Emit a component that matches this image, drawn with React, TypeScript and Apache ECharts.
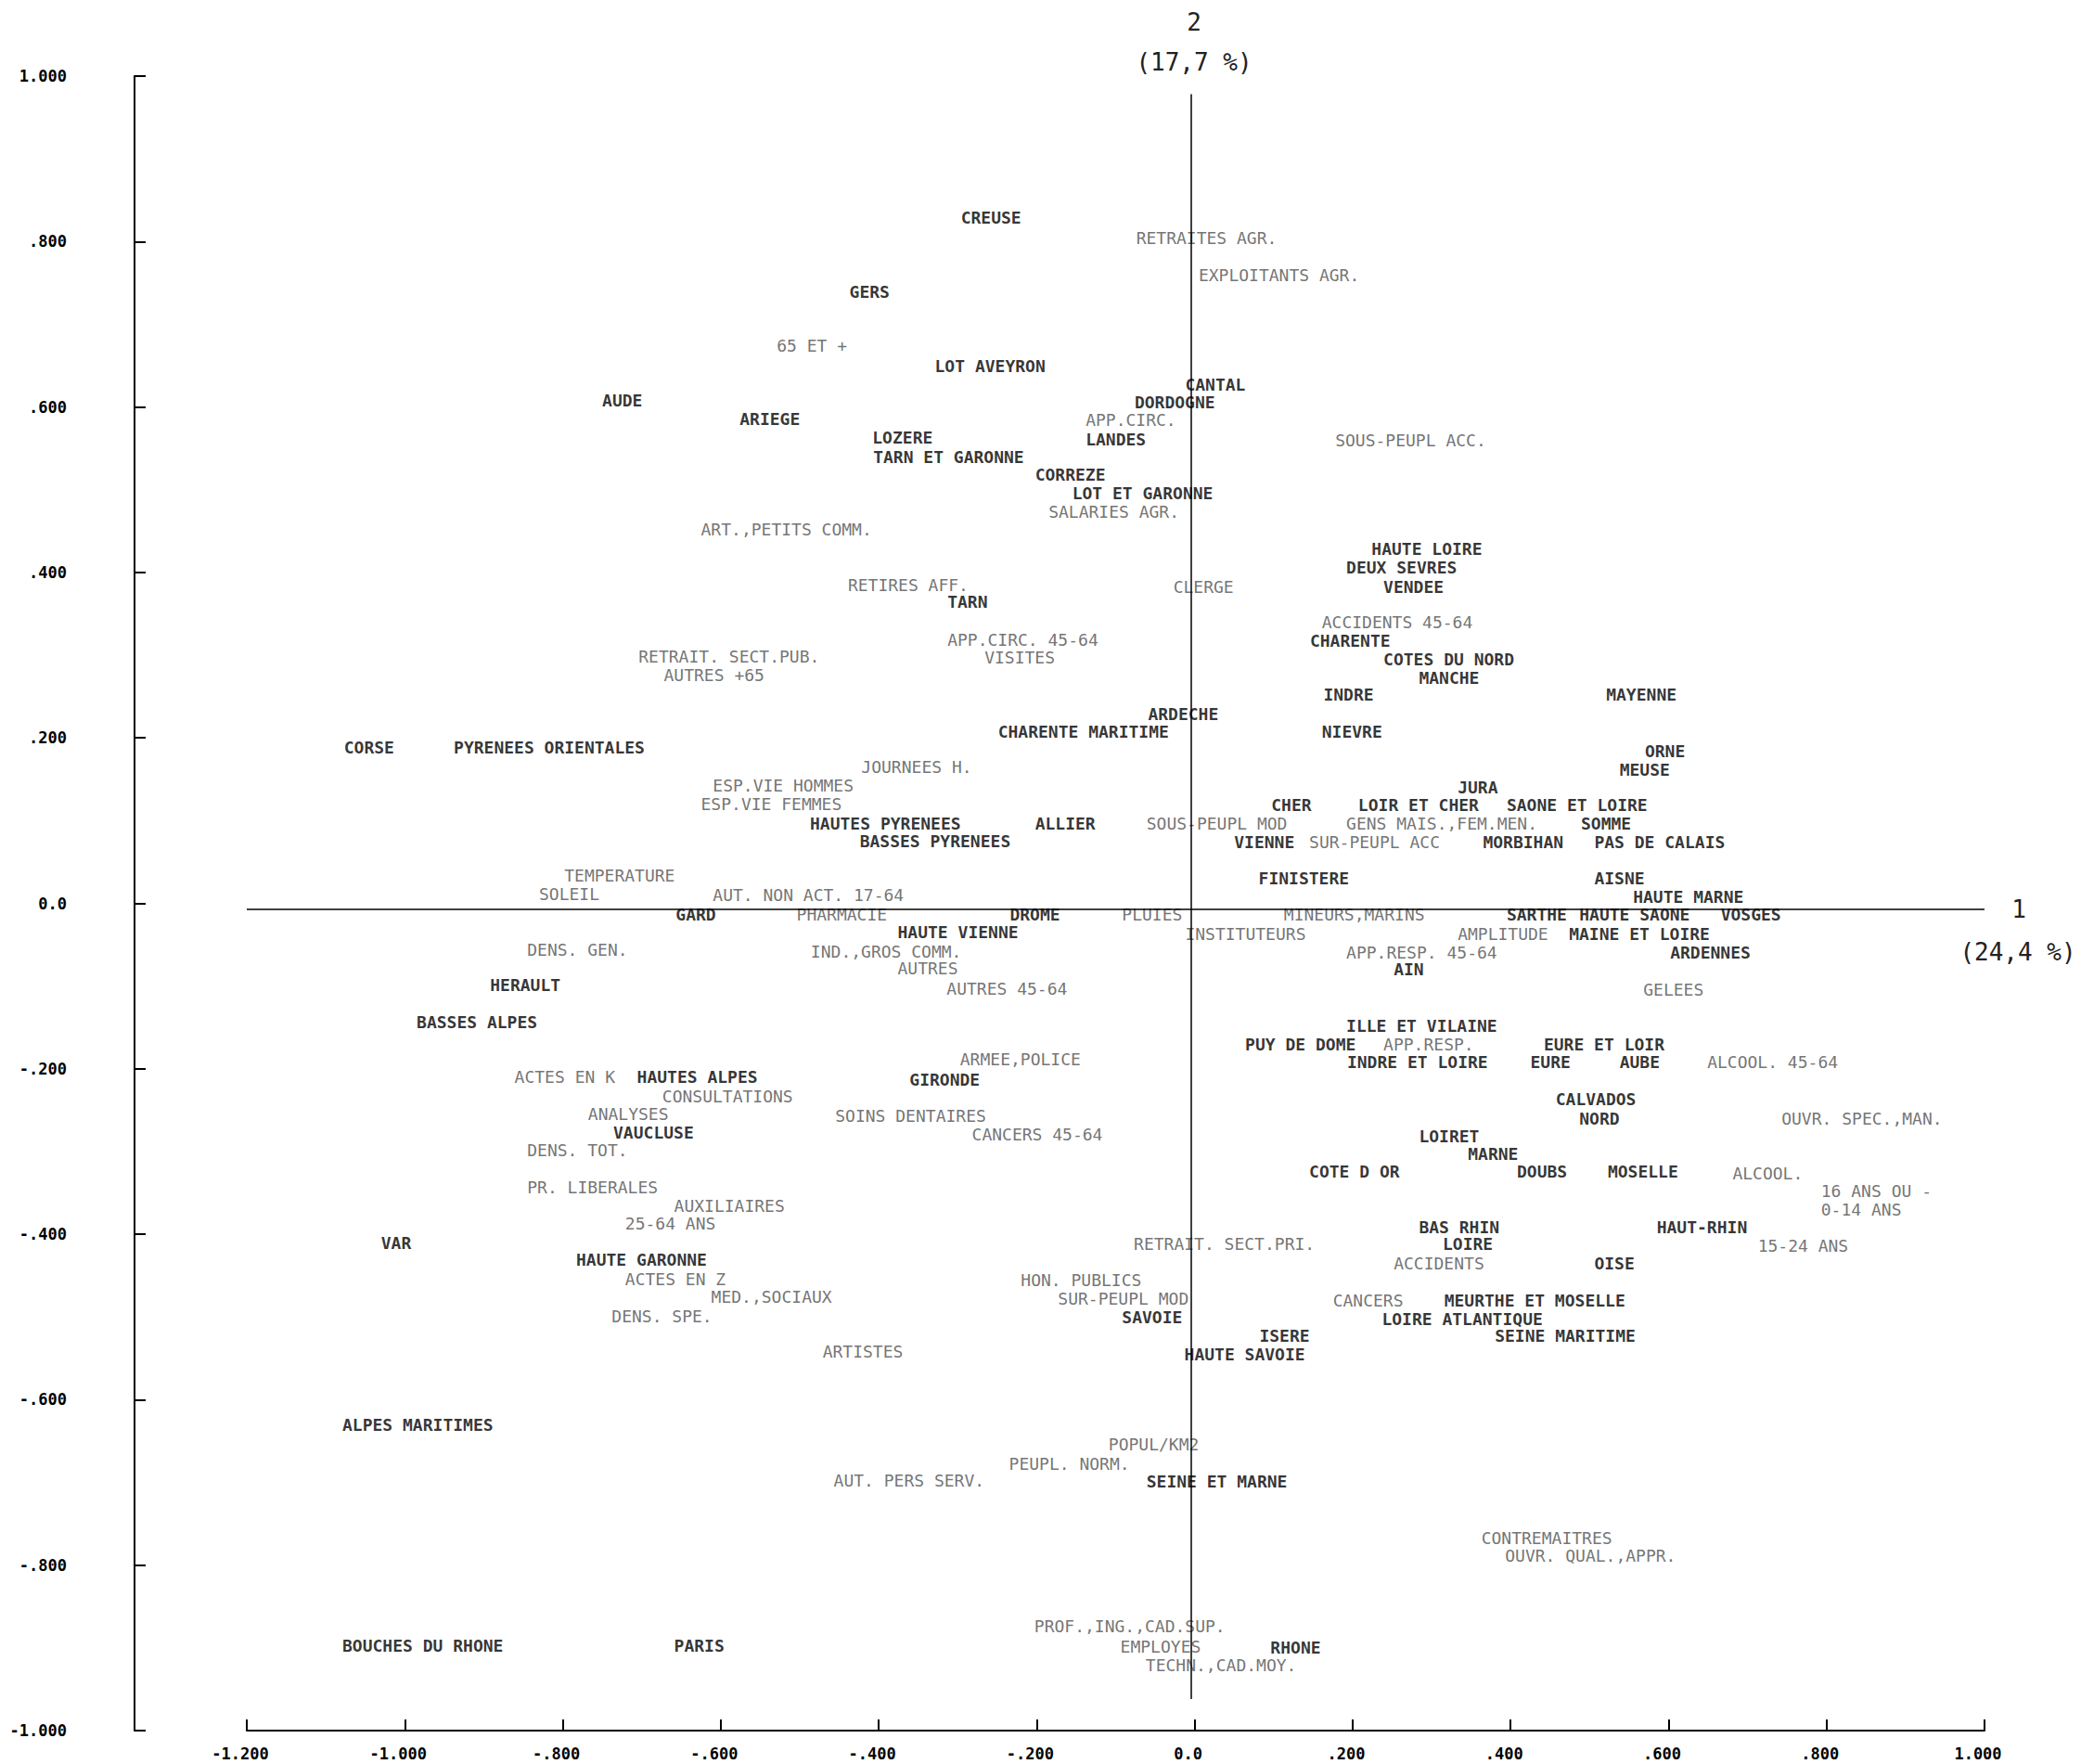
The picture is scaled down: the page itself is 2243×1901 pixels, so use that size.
import React, { useEffect, useRef } from "react";
import * as echarts from "echarts";

// Tick labels
const X_TICK_LABELS = ["-1.200", "-1.000", "-.800", "-.600", "-.400", "-.200", "0.0", ".200", ".400", ".600", ".800", "1.000"];
const Y_TICK_LABELS = ["-1.000", "-.800", "-.600", "-.400", "-.200", "0.0", ".200", ".400", ".600", ".800", "1.000"];

// Axis titles
const AXIS1_TITLE = ["1", "(24,4 %)"];
const AXIS2_TITLE = ["2", "(17,7 %)"];

// Active points: départements
const DEPT_NAMES = [
  "CREUSE", "GERS", "LOT AVEYRON", "CANTAL", "DORDOGNE", "AUDE", "ARIEGE", "LOZERE", "LANDES", "TARN ET GARONNE",
  "CORREZE", "LOT ET GARONNE", "HAUTE LOIRE", "DEUX SEVRES", "VENDEE", "TARN", "CHARENTE", "COTES DU NORD", "MANCHE", "INDRE",
  "MAYENNE", "ARDECHE", "CHARENTE MARITIME", "NIEVRE", "CORSE", "PYRENEES ORIENTALES", "ORNE", "MEUSE", "JURA", "CHER",
  "LOIR ET CHER", "SAONE ET LOIRE", "HAUTES PYRENEES", "ALLIER", "SOMME", "BASSES PYRENEES", "VIENNE", "MORBIHAN", "PAS DE CALAIS", "FINISTERE",
  "AISNE", "HAUTE MARNE", "GARD", "DROME", "SARTHE", "HAUTE SAONE", "VOSGES", "HAUTE VIENNE", "MAINE ET LOIRE", "ARDENNES",
  "AIN", "HERAULT", "BASSES ALPES", "ILLE ET VILAINE", "PUY DE DOME", "EURE ET LOIR", "INDRE ET LOIRE", "EURE", "AUBE", "HAUTES ALPES",
  "GIRONDE", "CALVADOS", "NORD", "VAUCLUSE", "LOIRET", "MARNE", "COTE D OR", "DOUBS", "MOSELLE", "BAS RHIN",
  "HAUT-RHIN", "VAR", "LOIRE", "HAUTE GARONNE", "OISE", "MEURTHE ET MOSELLE", "SAVOIE", "LOIRE ATLANTIQUE", "ISERE", "SEINE MARITIME",
  "HAUTE SAVOIE", "ALPES MARITIMES", "SEINE ET MARNE", "BOUCHES DU RHONE", "PARIS", "RHONE"
];
const DEPT_X = [
  -0.296, -0.437, -0.329, -0.012, -0.076, -0.750, -0.576, -0.408, -0.138, -0.407,
  -0.202, -0.155, 0.224, 0.192, 0.239, -0.313, 0.146, 0.239, 0.284, 0.163,
  0.521, -0.059, -0.249, 0.161, -1.077, -0.938, 0.570, 0.538, 0.333, 0.097,
  0.207, 0.395, -0.487, -0.202, 0.489, -0.424, 0.050, 0.365, 0.506, 0.081,
  0.506, 0.555, -0.657, -0.234, 0.395, 0.487, 0.666, -0.376, 0.474, 0.602,
  0.252, -0.892, -0.985, 0.192, 0.064, 0.442, 0.193, 0.425, 0.538, -0.706,
  -0.361, 0.457, 0.487, -0.736, 0.284, 0.346, 0.145, 0.408, 0.523, 0.284,
  0.585, -1.030, 0.314, -0.783, 0.506, 0.316, -0.092, 0.237, 0.082, 0.380,
  -0.013, -1.079, -0.061, -1.079, -0.659, 0.096
];
const DEPT_Y = [
  0.829, 0.739, 0.650, 0.627, 0.606, 0.608, 0.585, 0.563, 0.561, 0.540,
  0.518, 0.496, 0.428, 0.406, 0.383, 0.364, 0.318, 0.295, 0.273, 0.252,
  0.252, 0.229, 0.207, 0.207, 0.188, 0.188, 0.184, 0.162, 0.140, 0.119,
  0.119, 0.119, 0.096, 0.096, 0.096, 0.075, 0.074, 0.074, 0.074, 0.030,
  0.030, 0.008, -0.013, -0.013, -0.014, -0.014, -0.014, -0.035, -0.037, -0.059,
  -0.080, -0.099, -0.144, -0.148, -0.170, -0.170, -0.192, -0.192, -0.192, -0.210,
  -0.213, -0.237, -0.260, -0.277, -0.281, -0.303, -0.324, -0.324, -0.324, -0.391,
  -0.391, -0.411, -0.412, -0.431, -0.435, -0.480, -0.500, -0.502, -0.523, -0.523,
  -0.545, -0.630, -0.699, -0.897, -0.897, -0.900
];

// Supplementary points: variables
const VAR_NAMES = [
  "RETRAITES AGR.", "EXPLOITANTS AGR.", "65 ET +", "APP.CIRC.", "SOUS-PEUPL ACC.", "SALARIES AGR.", "ART.,PETITS COMM.", "RETIRES AFF.", "CLERGE", "ACCIDENTS 45-64",
  "APP.CIRC. 45-64", "VISITES", "RETRAIT. SECT.PUB.", "AUTRES +65", "JOURNEES H.", "ESP.VIE HOMMES", "ESP.VIE FEMMES", "SOUS-PEUPL MOD", "GENS MAIS.,FEM.MEN.", "SUR-PEUPL ACC",
  "TEMPERATURE", "SOLEIL", "AUT. NON ACT. 17-64", "PHARMACIE", "PLUIES", "MINEURS,MARINS", "INSTITUTEURS", "AMPLITUDE", "DENS. GEN.", "IND.,GROS COMM.",
  "APP.RESP. 45-64", "AUTRES", "AUTRES 45-64", "GELEES", "APP.RESP.", "ARMEE,POLICE", "ALCOOL. 45-64", "ACTES EN K", "CONSULTATIONS", "ANALYSES",
  "SOINS DENTAIRES", "OUVR. SPEC.,MAN.", "CANCERS 45-64", "DENS. TOT.", "ALCOOL.", "PR. LIBERALES", "16 ANS OU -", "AUXILIAIRES", "0-14 ANS", "25-64 ANS",
  "RETRAIT. SECT.PRI.", "15-24 ANS", "ACCIDENTS", "ACTES EN Z", "HON. PUBLICS", "MED.,SOCIAUX", "SUR-PEUPL MOD", "CANCERS", "DENS. SPE.", "ARTISTES",
  "POPUL/KM2", "PEUPL. NORM.", "AUT. PERS SERV.", "CONTREMAITRES", "OUVR. QUAL.,APPR.", "PROF.,ING.,CAD.SUP.", "EMPLOYES", "TECHN.,CAD.MOY."
];
const VAR_X = [
  -0.074, 0.005, -0.529, -0.138, 0.178, -0.185, -0.625, -0.439, -0.027, 0.161,
  -0.313, -0.266, -0.704, -0.672, -0.422, -0.610, -0.625, -0.061, 0.192, 0.145,
  -0.798, -0.830, -0.610, -0.504, -0.092, 0.113, -0.012, 0.333, -0.845, -0.486,
  0.192, -0.376, -0.314, 0.568, 0.239, -0.297, 0.649, -0.861, -0.674, -0.768,
  -0.455, 0.743, -0.282, -0.845, 0.681, -0.845, 0.793, -0.659, 0.793, -0.721,
  -0.077, 0.713, 0.252, -0.721, -0.220, -0.612, -0.173, 0.175, -0.738, -0.471,
  -0.109, -0.235, -0.457, 0.363, 0.393, -0.203, -0.094, -0.062
];
const VAR_Y = [
  0.804, 0.759, 0.674, 0.584, 0.560, 0.473, 0.452, 0.385, 0.383, 0.340,
  0.319, 0.297, 0.298, 0.276, 0.165, 0.143, 0.120, 0.096, 0.096, 0.074,
  0.034, 0.011, 0.010, -0.013, -0.013, -0.014, -0.037, -0.037, -0.056, -0.058,
  -0.059, -0.079, -0.103, -0.104, -0.170, -0.189, -0.192, -0.210, -0.233, -0.255,
  -0.257, -0.260, -0.279, -0.298, -0.326, -0.343, -0.348, -0.366, -0.370, -0.387,
  -0.412, -0.414, -0.435, -0.454, -0.455, -0.476, -0.478, -0.480, -0.499, -0.542,
  -0.654, -0.677, -0.698, -0.767, -0.789, -0.874, -0.898, -0.921
];

// Where the plotter drew the two factorial axes (slightly off the tick origin)
const CROSS_X = -0.005;
const CROSS_Y = -0.007;

const FONT = '"DejaVu Sans Mono", "Liberation Mono", monospace';

export default function App() {
  const ref = useRef<HTMLDivElement | null>(null);

  useEffect(() => {
    if (!ref.current) return;
    const chart = echarts.init(ref.current, undefined, { renderer: "svg" });

    const deptData = DEPT_NAMES.map((n, i) => [DEPT_X[i], DEPT_Y[i], n]);
    const varData = VAR_NAMES.map((n, i) => [VAR_X[i], VAR_Y[i], n]);

    const xMin = -1.2, xMax = 1.0, yMin = -1.0, yMax = 1.0, step = 0.2;

    const option: any = {
      animation: false,
      backgroundColor: "#ffffff",
      grid: { left: 266, right: 104, top: 82, bottom: 36, containLabel: false, outerBoundsMode: "none" },
      xAxis: {
        type: "value",
        min: xMin,
        max: xMax,
        interval: step,
        axisLine: { show: true, onZero: false, lineStyle: { color: "#000", width: 2 } },
        axisTick: { show: true, inside: true, length: 12, lineStyle: { color: "#000", width: 2 } },
        splitLine: { show: false },
        axisLabel: {
          margin: 16,
          fontFamily: FONT,
          fontSize: 17,
          fontWeight: "bold",
          color: "#000",
          padding: [0, 14, 0, 0],
          formatter: (v: number) => X_TICK_LABELS[Math.round((v - xMin) / step)] ?? "",
        },
      },
      yAxis: {
        type: "value",
        min: yMin,
        max: yMax,
        interval: step,
        offset: 121,
        axisLine: { show: true, onZero: false, lineStyle: { color: "#000", width: 2 } },
        axisTick: { show: true, inside: true, length: 12, lineStyle: { color: "#000", width: 2 } },
        splitLine: { show: false },
        axisLabel: {
          margin: 73,
          fontFamily: FONT,
          fontSize: 17,
          fontWeight: "bold",
          color: "#000",
          padding: [0, 0, 4, 0],
          formatter: (v: number) => Y_TICK_LABELS[Math.round((v - yMin) / step)] ?? "",
        },
      },
      series: [
        {
          type: "scatter",
          name: "Variables",
          data: varData,
          symbolSize: 0,
          silent: true,
          label: {
            show: true,
            position: "right",
            distance: 0,
            formatter: (p: any) => p.data[2],
            fontFamily: FONT,
            fontSize: 18,
            fontWeight: "normal",
            color: "#505050",
          },
          markLine: {
            silent: true,
            symbol: "none",
            animation: false,
            label: { show: false },
            lineStyle: { color: "#000", width: 1.5, type: "solid" },
            data: [
              [{ coord: [CROSS_X, 0.978] }, { coord: [CROSS_X, -0.962] }],
              [{ coord: [xMin, CROSS_Y] }, { coord: [xMax, CROSS_Y] }],
            ],
          },
        },
        {
          type: "scatter",
          name: "Départements",
          data: deptData,
          symbolSize: 0,
          silent: true,
          label: {
            show: true,
            position: "right",
            distance: 0,
            formatter: (p: any) => p.data[2],
            fontFamily: FONT,
            fontSize: 18,
            fontWeight: "bold",
            color: "#000",
          },
        },
      ],
      graphic: [
        { type: "text", x: 1287, y: 24, style: { text: AXIS2_TITLE[0], font: `26px ${FONT}`, fill: "#222", textAlign: "center", textVerticalAlign: "middle" } },
        { type: "text", x: 1287, y: 67, style: { text: AXIS2_TITLE[1], font: `26px ${FONT}`, fill: "#222", textAlign: "center", textVerticalAlign: "middle" } },
        { type: "text", x: 2176, y: 980, style: { text: AXIS1_TITLE[0], font: `26px ${FONT}`, fill: "#222", textAlign: "center", textVerticalAlign: "middle" } },
        { type: "text", x: 2175, y: 1026, style: { text: AXIS1_TITLE[1], font: `26px ${FONT}`, fill: "#222", textAlign: "center", textVerticalAlign: "middle" } },
      ],
    };

    chart.setOption(option);
    return () => chart.dispose();
  }, []);

  return (
    <div
      ref={ref}
      style={{ position: "absolute", left: 0, top: 0, width: 2243, height: 1901, background: "#fff" }}
    />
  );
}
